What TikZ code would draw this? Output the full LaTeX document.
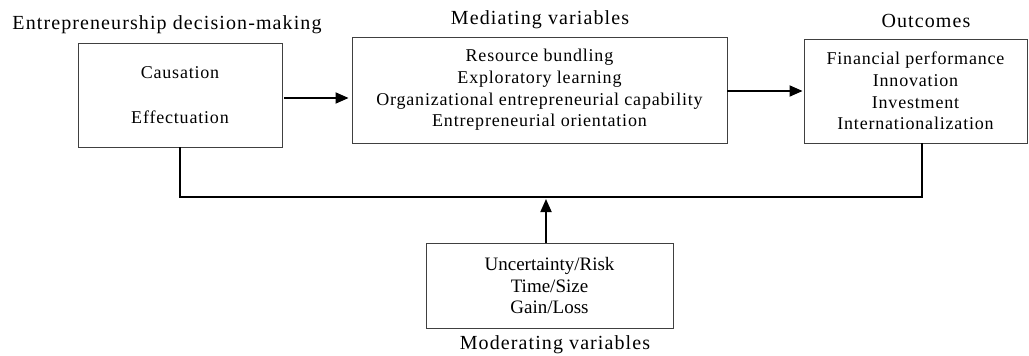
\documentclass[tikz,border=0pt]{standalone}
\usepackage{fontspec}
\setmainfont{Liberation Serif}
\newfontfamily\widebody[LetterSpace=4.5]{Liberation Serif}
\newfontfamily\widetitle[LetterSpace=5.5]{Liberation Serif}
\usetikzlibrary{arrows.meta}
\begin{document}
\begin{tikzpicture}[x=1pt,y=-1pt,
  box/.style={draw=black!75,line width=0.9pt,rectangle,inner sep=0pt,align=center,
    font=\widebody\fontsize{18}{21.7}\selectfont},
  modbox/.style={box,font=\fontsize{19}{21.5}\selectfont},
  ttl/.style={inner sep=0pt,font=\widetitle\fontsize{20}{24}\selectfont},
  link/.style={line width=1.8pt,draw=black},
  arr/.style={link,-{Triangle[length=13pt,width=11pt]}}]
\useasboundingbox (0,0) rectangle (1029,356);
% boxes
\node[box,minimum width=204pt,minimum height=104pt] (dm) at (180,95)
  {Causation\\[23pt]Effectuation};
\node[box,minimum width=375pt,minimum height=106pt] (med) at (539.5,90)
  {Resource bundling\\Exploratory learning\\Organizational entrepreneurial capability\\Entrepreneurial orientation};
\node[box,minimum width=223pt,minimum height=104pt] (out) at (915.5,91)
  {Financial performance\\Innovation\\Investment\\Internationalization};
\node[modbox,minimum width=247pt,minimum height=85pt] (mod) at (549.5,285.5)
  {Uncertainty/Risk\\Time/Size\\Gain/Loss};
% titles
\node[ttl] (tdm) at (167,25) {Entrepreneurship decision-making};
\node[ttl] (tmed) at (540,20) {Mediating variables};
\node[ttl] (tout) at (926,21) {Outcomes};
\node[ttl] (tmod) at (555,345) {Moderating variables};
% connectors
\coordinate (jl) at (180,197);
\coordinate (jr) at (922,197);
\coordinate (jm) at (546,199);
\draw[arr,shorten >=3pt] ([xshift=2pt,yshift=-3pt]dm.east) -- ([yshift=-3pt]dm.east -| med.west);
\draw[arr,shorten >=1pt] ([yshift=-1pt]med.east) -- ([yshift=-1pt]med.east -| out.west);
\draw[link] (dm.south) -- (jl) -- (jr) -- (jr |- out.south);
\draw[arr] (mod.north -| jm) -- (jm);
\end{tikzpicture}
\end{document}
